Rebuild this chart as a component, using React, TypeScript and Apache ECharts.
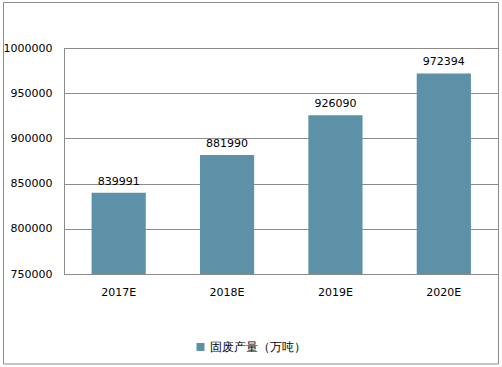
import React, { useEffect, useRef } from "react";
import * as echarts from "echarts";

const categories = ["2017E", "2018E", "2019E", "2020E"];
const values = [839991, 881990, 926090, 972394];
const seriesName = "固废产量（万吨）";

export default function App() {
  const ref = useRef<HTMLDivElement>(null);
  useEffect(() => {
    document.body.style.margin = "0";
    const chart = echarts.init(ref.current!, null, { renderer: "svg" });
    const font = "DejaVu Sans";
    chart.setOption({
      animation: false,
      backgroundColor: "#ffffff",
      graphic: [
        {
          type: "rect",
          shape: { x: 3.5, y: 2.5, width: 495, height: 361.5 },
          style: { fill: "none", stroke: "#8c8c8c", lineWidth: 1 },
          silent: true,
        },
      ],
      grid: { left: 64.5, top: 48.5, right: 4, bottom: 93, containLabel: false },
      legend: {
        data: [seriesName],
        left: "center",
        top: 336,
        itemWidth: 8,
        itemHeight: 8,
        itemGap: 4,
        icon: "rect",
        textStyle: { fontFamily: font, fontSize: 12, color: "#000" },
      },
      xAxis: {
        type: "category",
        data: categories,
        axisLine: { lineStyle: { color: "#8c8c8c" } },
        axisTick: { show: false },
        axisLabel: { fontFamily: font, fontSize: 11, color: "#000", margin: 13 },
      },
      yAxis: {
        type: "value",
        min: 750000,
        max: 1000000,
        interval: 50000,
        axisLine: { show: true, lineStyle: { color: "#8c8c8c" } },
        axisTick: { show: false },
        splitLine: { lineStyle: { color: "#8c8c8c" } },
        axisLabel: {
          fontFamily: font,
          fontSize: 11,
          color: "#000",
          margin: 12,
          formatter: (v: number) => String(v),
        },
      },
      series: [
        {
          name: seriesName,
          type: "bar",
          data: values,
          barWidth: "50%",
          itemStyle: { color: "#5d91a8" },
          label: {
            show: true,
            position: "top",
            distance: 6,
            fontFamily: font,
            fontSize: 11,
            color: "#000",
          },
        },
      ],
    });
    return () => chart.dispose();
  }, []);
  return <div ref={ref} style={{ width: 502, height: 367 }} />;
}
